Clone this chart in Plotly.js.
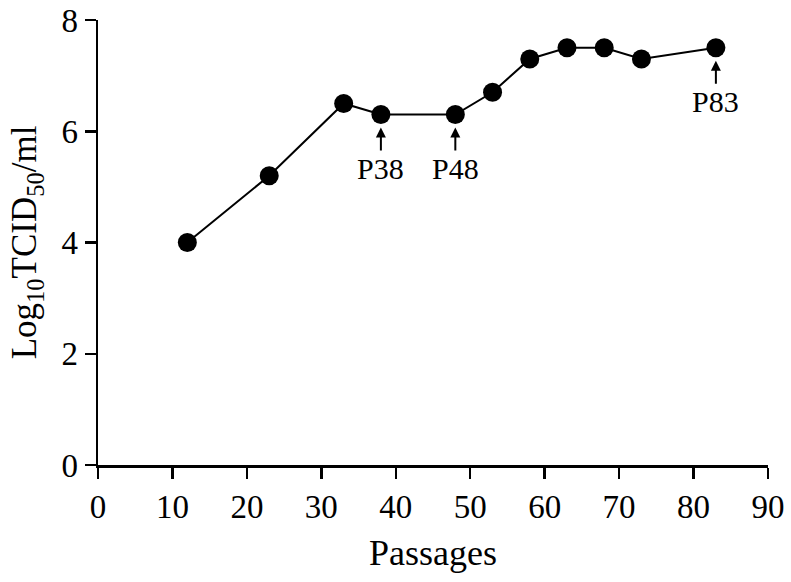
<!DOCTYPE html>
<html>
<head>
<meta charset="utf-8">
<script src="https://cdn.plot.ly/plotly-3.0.1.min.js"></script>
<style>html,body{margin:0;padding:0;background:#fff;}#chart{width:791px;height:582px;}</style>
</head>
<body>
<div id="chart"></div>
<script>
const passages = [12, 23, 33, 38, 48, 53, 58, 63, 68, 73, 83];
const titers = [4.0, 5.2, 6.5, 6.3, 6.3, 6.7, 7.3, 7.5, 7.5, 7.3, 7.5];
const markedPassages = [38, 48, 83];
const markedLabels = ['P38', 'P48', 'P83'];
const xTicks = [0, 10, 20, 30, 40, 50, 60, 70, 80, 90];
const yTicks = [0, 2, 4, 6, 8];

const font = 'Liberation Serif';

const annotations = markedPassages.map((p, i) => ({
  x: p,
  y: titers[passages.indexOf(p)],
  xref: 'x', yref: 'y',
  text: markedLabels[i],
  showarrow: true,
  arrowhead: 2,
  arrowsize: 1,
  arrowwidth: 2,
  arrowcolor: '#000',
  standoff: 13,
  ax: 0,
  ay: 54,
  font: {family: font, size: 30, color: '#000'}
}));

const trace = {
  x: passages,
  y: titers,
  mode: 'lines+markers',
  type: 'scatter',
  line: {color: '#000', width: 2},
  marker: {color: '#000', size: 19},
  cliponaxis: false,
  showlegend: false
};

const layout = {
  width: 791, height: 582,
  margin: {l: 98, r: 23, t: 20, b: 117},
  paper_bgcolor: '#fff', plot_bgcolor: '#fff',
  font: {family: font, color: '#000', size: 28},
  xaxis: {
    range: [0, 90],
    tickvals: xTicks, ticktext: xTicks.map(String),
    showgrid: false, zeroline: false,
    showline: true, linecolor: '#000', linewidth: 2.5,
    ticks: 'outside', ticklen: 11, tickwidth: 2.5, tickcolor: '#000',
    tickfont: {family: font, size: 33, color: '#000'},
    title: {text: 'Passages', font: {family: font, size: 36, color: '#000'}, standoff: 16}
  },
  yaxis: {
    range: [0, 8],
    tickvals: yTicks, ticktext: yTicks.map(String),
    showgrid: false, zeroline: false,
    showline: true, linecolor: '#000', linewidth: 2.5,
    ticks: 'outside', ticklen: 11, tickwidth: 2.5, tickcolor: '#000',
    tickfont: {family: font, size: 33, color: '#000'},
    title: {text: 'Log<sub>10</sub>TCID<sub>50</sub>/ml', font: {family: font, size: 35, color: '#000'}, standoff: 14}
  },
  annotations: annotations
};

Plotly.newPlot('chart', [trace], layout, {staticPlot: true, displayModeBar: false});
</script>
</body>
</html>
